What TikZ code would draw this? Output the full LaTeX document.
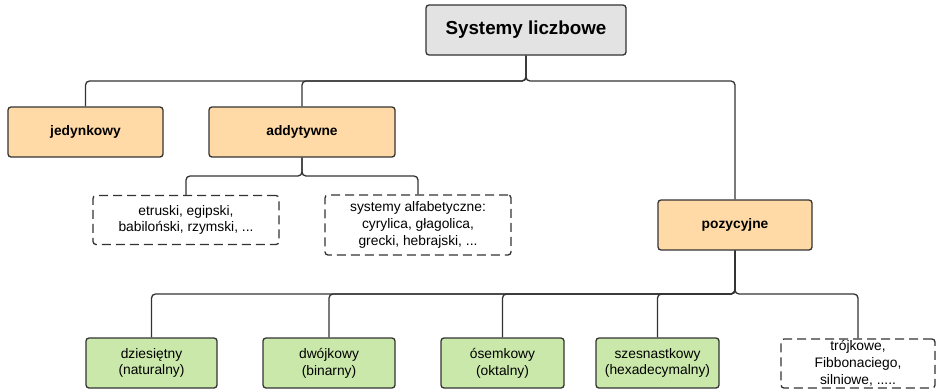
\documentclass[tikz,border=0pt]{standalone}
\usepackage{fontspec}
\setmainfont{Liberation Sans}
\usepackage{xcolor}
\definecolor{rootfill}{RGB}{227,227,227}
\definecolor{kind}{RGB}{255,218,166}
\definecolor{base}{RGB}{201,232,170}
\definecolor{edge}{RGB}{51,51,51}
\tikzstyle{box}=[draw=edge, line width=1.3pt, rounded corners=3pt, inner sep=0pt, align=center, font=\fontsize{13.8}{16.8}\selectfont]
\tikzstyle{root}=[box, fill=rootfill, font=\fontsize{18.8}{22}\selectfont\bfseries]
\tikzstyle{kind}=[box, fill=kind, font=\fontsize{13.8}{16.8}\selectfont\bfseries]
\tikzstyle{base}=[box, fill=base]
\tikzstyle{note}=[box, dash pattern=on 9pt off 5pt]
\tikzstyle{link}=[draw=edge, line width=1.3pt, rounded corners=4pt]

\begin{document}
\begin{tikzpicture}[x=1pt,y=-1pt]
  \useasboundingbox (0,0) rectangle (936,389);
  \draw (526,30) node[root,minimum width=200pt,minimum height=50pt] (sys) {Systemy liczbowe};

  \draw (85.5,132) node[kind,minimum width=155pt,minimum height=50pt] (jed) {jedynkowy};
  \draw (302,132) node[kind,minimum width=186pt,minimum height=50pt] (add) {addytywne};
  \draw (735,225) node[kind,minimum width=154pt,minimum height=50pt] (poz) {pozycyjne};

  \draw (186,220) node[note,minimum width=186pt,minimum height=49pt] (etr) {etruski, egipski,\\babiloński, rzymski, ...};
  \draw (418,225) node[note,minimum width=186pt,minimum height=60pt] (alf) {systemy alfabetyczne:\\cyrylica, głagolica,\\grecki, hebrajski, ...};

  \draw (151.5,363) node[base,minimum width=131pt,minimum height=50pt] (dzi) {dziesiętny\\(naturalny)};
  \draw (329,363) node[base,minimum width=132pt,minimum height=50pt] (dwo) {dwójkowy\\(binarny)};
  \draw (502.5,363) node[base,minimum width=123pt,minimum height=50pt] (ose) {ósemkowy\\(oktalny)};
  \draw (657.5,363) node[base,minimum width=123pt,minimum height=50pt] (szes) {szesnastkowy\\(hexadecymalny)};
  \draw (858,363.5) node[note,minimum width=154pt,minimum height=49pt] (tro) {trójkowe,\\Fibbonaciego,\\silniowe, .....};

  %% Bus points
  \coordinate (sysbus) at (526,81);
  \coordinate (addbus) at (302,176);
  \coordinate (pozbus) at (735,294);

  \draw[link] (sys.south) -- (sysbus) -| (jed.north);
  \draw[link] (sys.south) -- (sysbus) -| (add.north);
  \draw[link] (sys.south) -- (sysbus) -| (poz.north);

  \draw[link] (add.south) -- (addbus) -| (etr.north);
  \draw[link] (add.south) -- (addbus) -| (alf.north);

  \draw[link] (poz.south) -- (pozbus) -| (dzi.north);
  \draw[link] (poz.south) -- (pozbus) -| (dwo.north);
  \draw[link] (poz.south) -- (pozbus) -| (ose.north);
  \draw[link] (poz.south) -- (pozbus) -| (szes.north);
  \draw[link] (poz.south) -- (pozbus) -| (tro.north);
\end{tikzpicture}
\end{document}
